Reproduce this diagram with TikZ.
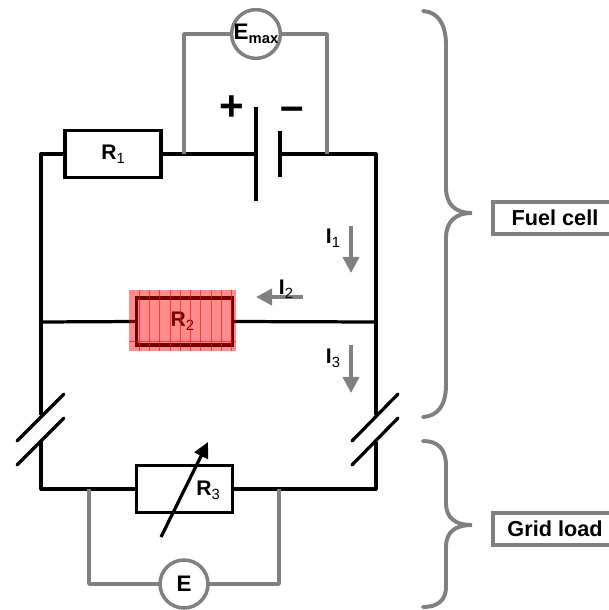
\documentclass[tikz,border=0pt]{standalone}
\usepackage{fontspec}
\setmainfont{Liberation Sans}
\usetikzlibrary{arrows.meta}
\definecolor{wiregray}{gray}{0.5}
\newcommand{\sublab}[3][\mdseries]{#2\raisebox{-3pt}{\fontsize{10.5}{11}\selectfont #1#3}}
\tikzset{
  wire/.style={line width=2.3pt,line join=round},
  meter/.style={line width=2.5pt,color=wiregray,line join=round},
  resbox/.style={draw,line width=2.4pt,minimum width=2.4cm,minimum height=1.17cm,inner sep=0pt,outer sep=0pt,fill=white,font=\fontsize{15}{16}\selectfont\bfseries},
  gauge/.style={circle,draw=wiregray,line width=2.5pt,fill=white,minimum size=1.2cm,inner sep=0pt,outer sep=0pt,font=\fontsize{16}{17}\selectfont\bfseries},
  curlab/.style={inner sep=0pt,font=\fontsize{15}{16}\selectfont\bfseries},
  current/.style={line width=2.8pt,color=wiregray,-{Triangle[width=11.5pt,length=11.5pt]}},
  partbox/.style={draw=wiregray,line width=2.8pt,fill=white,minimum width=3.1cm,minimum height=0.8cm,inner sep=0pt,font=\fontsize{15.4}{17}\selectfont\bfseries},
  brace/.style={line width=2.8pt,color=wiregray,line cap=round}
}
\begin{document}
\begin{tikzpicture}[x=0.025cm,y=-0.025cm]
\useasboundingbox (0,0) rectangle (609,610);

% corners of the circuit
\coordinate (tl) at (41,154);
\coordinate (tr) at (376,154);
\coordinate (ml) at (41,322);
\coordinate (mr) at (376,322);
\coordinate (bl) at (41,489);
\coordinate (br) at (376,489);
\coordinate (cutl1) at (41,415);
\coordinate (cutl2) at (41,442);
\coordinate (cutr1) at (376,415);
\coordinate (cutr2) at (376,442);
\coordinate (posa) at (256,107);
\coordinate (posb) at (256,201);
\coordinate (posc) at (256,154);
\coordinate (nega) at (280,131);
\coordinate (negb) at (280,177);
\coordinate (negc) at (280,154);

\node[resbox] (r1) at (113,154) {\sublab{R}{1}};
\node[resbox] (r2) at (184.5,321.5) {\hspace{-3pt}\sublab{R}{2}};
\node[resbox] (r3) at (184.5,489) {};
\node at (208,490) [inner sep=0pt,font=\fontsize{15}{16}\selectfont\bfseries] (r3lab) {\sublab{R}{3}};

% black wires
\draw[wire] (r1.west) -- (tl) -- (cutl1);
\draw[wire] (r1.east) -- (posc);
\draw[wire] (negc) -- (tr) -- (cutr1);
\draw[wire] (ml) -- (r2.west);
\draw[wire] (r2.east) -- (mr);
\draw[wire] (cutl2) -- (bl) -- (r3.west);
\draw[wire] (cutr2) -- (br) -- (r3.east);
\draw[wire,line width=2.6pt] (posa) -- (posb);
\draw[wire,line width=2.6pt] (nega) -- (negb);

% switches
\coordinate (sla1) at (17,441);
\coordinate (sla2) at (64,394);
\coordinate (slb1) at (17,465);
\coordinate (slb2) at (64,418);
\coordinate (sra1) at (352,441);
\coordinate (sra2) at (398,394);
\coordinate (srb1) at (352,465);
\coordinate (srb2) at (398,418);
\draw[wire,line cap=round] (sla1) -- (sla2);
\draw[wire,line cap=round] (slb1) -- (slb2);
\draw[wire,line cap=round] (sra1) -- (sra2);
\draw[wire,line cap=round] (srb1) -- (srb2);

% variable resistor arrow
\coordinate (rva) at (161,537);
\coordinate (rvb) at (208,442);
\draw[line width=2.3pt,-{Triangle[width=10.5pt,length=11pt]}] (rva) -- (rvb);

% meters
\node[gauge] (emax) at (256,34) {\sublab[\bfseries]{E}{max}};
\node[gauge] (emeas) at (184,584) {E};
\coordinate (emaxl) at (184,154);
\coordinate (emaxlt) at (184,34);
\coordinate (emaxr) at (327,154);
\coordinate (emaxrt) at (327,34);
\coordinate (emeasl) at (89,489);
\coordinate (emeaslb) at (89,584);
\coordinate (emeasr) at (279,489);
\coordinate (emeasrb) at (279,584);
\draw[meter] (emaxl) -- (emaxlt) -- (emax);
\draw[meter] (emaxr) -- (emaxrt) -- (emax);
\draw[meter] (emeasl) -- (emeaslb) -- (emeas);
\draw[meter] (emeasr) -- (emeasrb) -- (emeas);

\node[inner sep=0pt,font=\fontsize{30}{30}\selectfont\bfseries] (plus) at (232,108) {+};
\node[inner sep=0pt,font=\fontsize{30}{30}\selectfont\bfseries] (minus) at (292,114) {\char"2013};

% currents
\coordinate (i1a) at (351,226);
\coordinate (i1b) at (351,273);
\coordinate (i2a) at (303,297);
\coordinate (i2b) at (256,297);
\coordinate (i3a) at (351,345);
\coordinate (i3b) at (351,393);
\draw[current] (i1a) -- (i1b);
\draw[current] (i2a) -- (i2b);
\draw[current] (i3a) -- (i3b);
\node[curlab] (i1) at (333,238) {\sublab{I}{1}};
\node[curlab] (i2) at (286,289) {\sublab{I}{2}};
\node[curlab] (i3) at (333,358) {\sublab{I}{3}};

% red mark on R2
\node[fill=red,fill opacity=.45,minimum width=2.675cm,minimum height=1.525cm,inner sep=0pt] (r2mark) at (182.5,320.5) {};
\foreach \x in {139,149.3,...,233}
  \draw[red,line width=.5pt,opacity=.6] (\x,290) -- (\x,351);
\draw[red,line width=.5pt,opacity=.6] (129,341) -- (236,341);

% braces
\draw[brace] (423,11) .. controls (438,12) and (446,24) .. (446,45) -- (446,188)
  .. controls (446,204) and (455,213) .. (472,213)
  .. controls (455,213) and (446,222) .. (446,238) -- (446,385)
  .. controls (446,405) and (438,416) .. (423,417);
\draw[brace] (423,441) .. controls (438,441) and (446,449) .. (446,466) -- (446,503)
  .. controls (446,518) and (455,525) .. (472,525)
  .. controls (455,525) and (446,532) .. (446,547) -- (446,587)
  .. controls (446,600) and (438,607) .. (423,607);

\node[partbox] (fuel) at (555,218) {Fuel cell};
\node[partbox] (grid) at (555,529) {Grid load};
\end{tikzpicture}
\end{document}
